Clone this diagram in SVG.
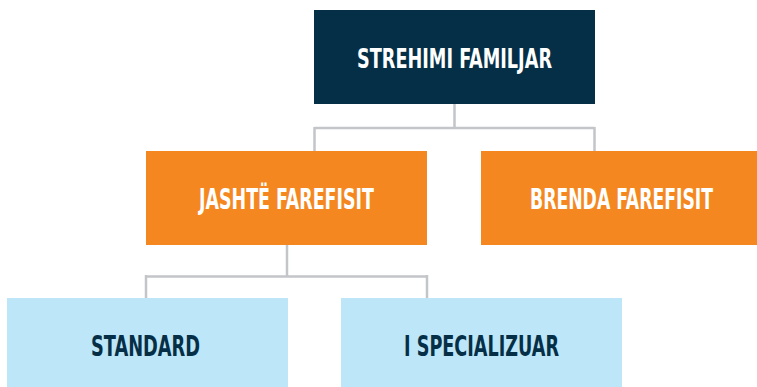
<svg xmlns="http://www.w3.org/2000/svg" width="757" height="387" viewBox="0 0 757 387">
<style>
.t{font-family:"DejaVu Sans Condensed","DejaVu Sans",sans-serif;font-weight:bold;font-stretch:condensed}
.w{fill:#ffffff}
.d{fill:#052f47}
.c{fill:none;stroke:#c4c5c9;stroke-width:2.5}
</style>
<rect width="757" height="387" fill="#ffffff"/>
<g id="connectors">
<path class="c" d="M454.5 104V128M314.5 128H594.5M314.5 127V151M594.5 127V151"/>
<path class="c" d="M287 245V276.5M146 276.5H427M146 275V298M427 275V298"/>
</g>
<g id="strehimi-familjar">
<rect x="314" y="10" width="281" height="94" fill="#052f47"/>
<text class="t w" x="357" y="68" font-size="27" textLength="195" lengthAdjust="spacingAndGlyphs">STREHIMI FAMILJAR</text>
</g>
<g id="jashte-farefisit">
<rect x="146" y="151" width="281" height="94" fill="#f58720"/>
<text class="t w" x="199" y="209" font-size="28" textLength="175" lengthAdjust="spacingAndGlyphs">JASHTË FAREFISIT</text>
</g>
<g id="brenda-farefisit">
<rect x="481" y="151" width="276" height="94" fill="#f58720"/>
<text class="t w" x="530" y="209" font-size="28" textLength="183" lengthAdjust="spacingAndGlyphs">BRENDA FAREFISIT</text>
</g>
<g id="standard">
<rect x="7" y="298" width="281" height="89" fill="#bde6f8"/>
<text class="t d" x="91" y="356" font-size="29" textLength="109" lengthAdjust="spacingAndGlyphs">STANDARD</text>
</g>
<g id="i-specializuar">
<rect x="341" y="298" width="281" height="89" fill="#bde6f8"/>
<text class="t d" x="404" y="356" font-size="29" textLength="155" lengthAdjust="spacingAndGlyphs">I SPECIALIZUAR</text>
</g>
</svg>
